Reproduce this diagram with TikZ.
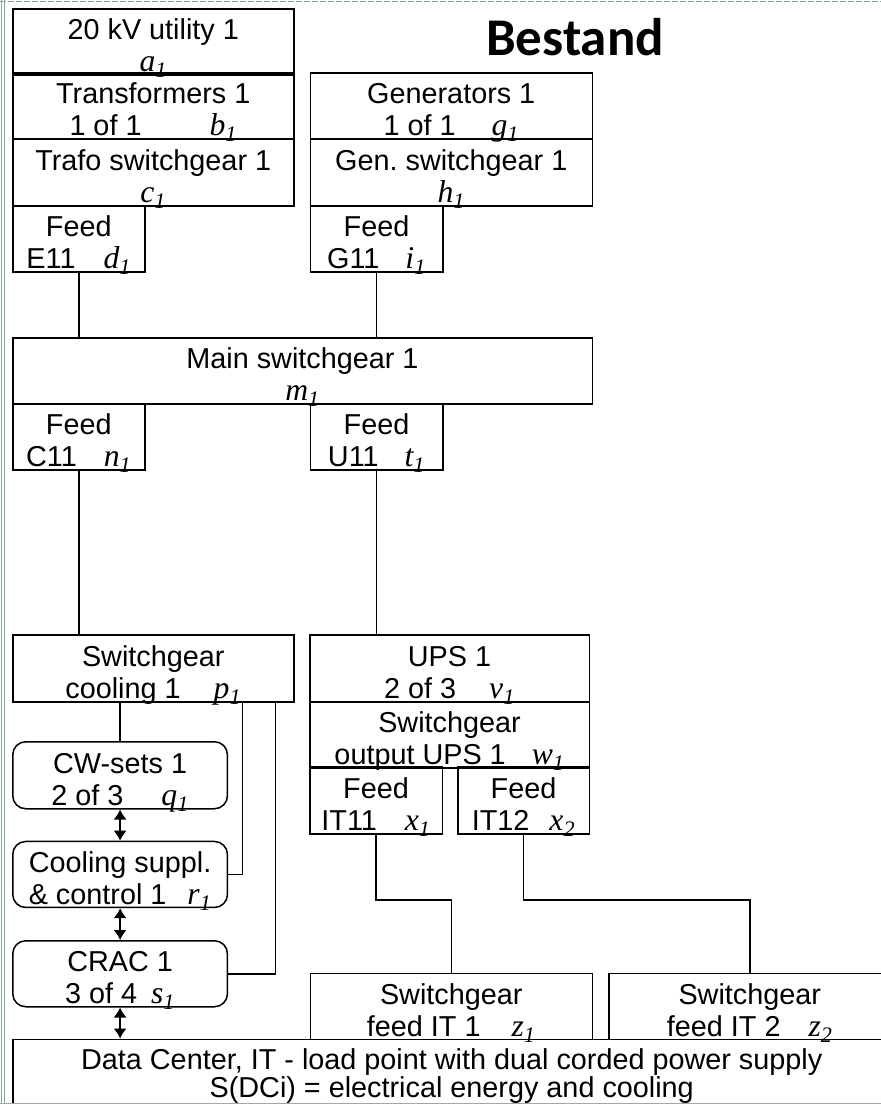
\documentclass[tikz,border=0pt]{standalone}
\usepackage{fontspec}
\setmainfont{Liberation Sans}
\newfontfamily\varfont{Liberation Serif}[Scale=1.1]
\newfontfamily\titlefont{Carlito}
\usetikzlibrary{arrows.meta}
\newcommand\vn[2]{{\varfont\itshape #1\textsubscript{#2}}}
\definecolor{framegray}{HTML}{8AA5A5}

\begin{document}
\begin{tikzpicture}[x=1pt, y=-1pt,
  every node/.style = {inner sep=0pt, align=center,
    font=\fontsize{28.8}{32}\selectfont},
  box/.style = {draw, line width=1.5pt, anchor=north west,
    text height=63pt, text depth=3pt},
  rbox/.style = {box, rounded corners=13pt},
  wire/.style = {line width=1.5pt},
  dblarrow/.style = {wire, {Latex[length=10pt,width=13pt]}-{Latex[length=10pt,width=13pt]}}]
  \useasboundingbox (0,0) rectangle (881,1104);
  \draw[framegray, line width=1pt, dash pattern=on 6pt off 2pt] (0,1) -- (881,1);
  \draw[framegray, line width=1pt] (1,0) -- (1,1104) (4.5,0) -- (4.5,1104);

  \node[font=\titlefont\bfseries\fontsize{53}{56}\selectfont, anchor=base] (title) at (575,55) {Bestand};

  \node[box, minimum width=281pt, minimum height=64pt] (util) at (12,8) {20 kV utility 1\\\vn{a}{1}};
  \node[box, minimum width=281pt, minimum height=66pt] (trafo) at (12,72) {Transformers 1\\1 of 1\hspace{68pt}\vn{b}{1}};
  \node[box, minimum width=281pt, minimum height=67pt] (trafosw) at (12,138) {Trafo switchgear 1\\\vn{c}{1}};
  \node[box, minimum width=132pt, minimum height=66pt] (feedE) at (12,205) {Feed\\E11\hspace{28pt}\vn{d}{1}};
  \node[box, minimum width=282pt, minimum height=66pt] (gen) at (309.5,72) {Generators 1\\1 of 1\hspace{36pt}\vn{g}{1}};
  \node[box, minimum width=282pt, minimum height=67pt] (gensw) at (309.5,138) {Gen.\ switchgear 1\\\vn{h}{1}};
  \node[box, minimum width=132.5pt, minimum height=66pt] (feedG) at (309.5,205) {Feed\\G11\hspace{26pt}\vn{i}{1}};

  \node[box, minimum width=579.5pt, minimum height=66pt] (main) at (12,337) {Main switchgear 1\\\vn{m}{1}};
  \node[box, minimum width=132pt, minimum height=66pt] (feedC) at (12,403) {Feed\\C11\hspace{27pt}\vn{n}{1}};
  \node[box, minimum width=132.5pt, minimum height=66pt] (feedU) at (309.5,403) {Feed\\U11\hspace{26pt}\vn{t}{1}};

  \node[box, minimum width=281pt, minimum height=67pt] (coolsw) at (12,634) {Switchgear\\cooling 1\hspace{33pt}\vn{p}{1}};
  \node[rbox, minimum width=214.7pt, minimum height=67pt] (cw) at (12,741) {CW-sets 1\\2 of 3\hspace{38pt}\vn{q}{1}};
  \node[rbox, minimum width=214.7pt, minimum height=66pt] (csc) at (12,840.7) {Cooling suppl.\\\& control 1\hspace{21pt}\vn{r}{1}};
  \node[rbox, minimum width=214.7pt, minimum height=66pt] (crac) at (12,940) {CRAC 1\\3 of 4\hspace{14pt}\vn{s}{1}};

  \node[box, minimum width=279.5pt, minimum height=67pt] (ups) at (309,634) {UPS 1\\2 of 3\hspace{33pt}\vn{v}{1}};
  \node[box, minimum width=279.5pt, minimum height=65pt] (upssw) at (309,701) {Switchgear\\output UPS 1\hspace{26pt}\vn{w}{1}};
  \node[box, minimum width=132.5pt, minimum height=67pt] (feedIT1) at (309,766) {Feed\\IT11\hspace{28pt}\vn{x}{1}};
  \node[box, minimum width=131.5pt, minimum height=67pt] (feedIT2) at (457,766) {Feed\\IT12\hspace{20pt}\vn{x}{2}};
  \node[box, minimum width=282pt, minimum height=66pt] (itsw1) at (309.5,972.5) {Switchgear\\feed IT 1\hspace{31pt}\vn{z}{1}};
  \node[box, minimum width=282pt, minimum height=66pt] (itsw2) at (608,972.5) {Switchgear\\feed IT 2\hspace{28pt}\vn{z}{2}};
  \node[box, minimum width=878pt, minimum height=70pt, text height=58pt, text depth=12pt,
    font=\fontsize{28.8}{28}\selectfont] (dc) at (12,1038.5) {Data Center, IT - load point with dual corded power supply\\S(DCi) = electrical energy and cooling};
  \draw[gray!70, line width=1pt] (0,1103) -- (881,1103);

  \draw[wire] (feedE.south) -- (feedE.south |- main.north);
  \draw[wire] (feedG.south) -- (feedG.south |- main.north);
  \draw[wire] (feedC.south) -- (feedC.south |- coolsw.north);
  \draw[wire] (feedU.south) -- (feedU.south |- ups.north);
  \draw[wire] (coolsw.south -| cw.north) -- (cw.north);
  \draw[wire] ([xshift=230.7pt]coolsw.south west) |- (csc.east);
  \draw[wire] ([xshift=263.7pt]coolsw.south west) |- (crac.east);
  \draw[dblarrow] (cw.south) -- (csc.north);
  \draw[dblarrow] (csc.south) -- (crac.north);
  \draw[dblarrow] (crac.south) -- (crac.south |- dc.north);
  \draw[wire] (feedIT1.south) -- ++(0,65.5) -| (itsw1.north);
  \draw[wire] (feedIT2.south) -- ++(0,65.5) -| (itsw2.north);
\end{tikzpicture}
\end{document}
